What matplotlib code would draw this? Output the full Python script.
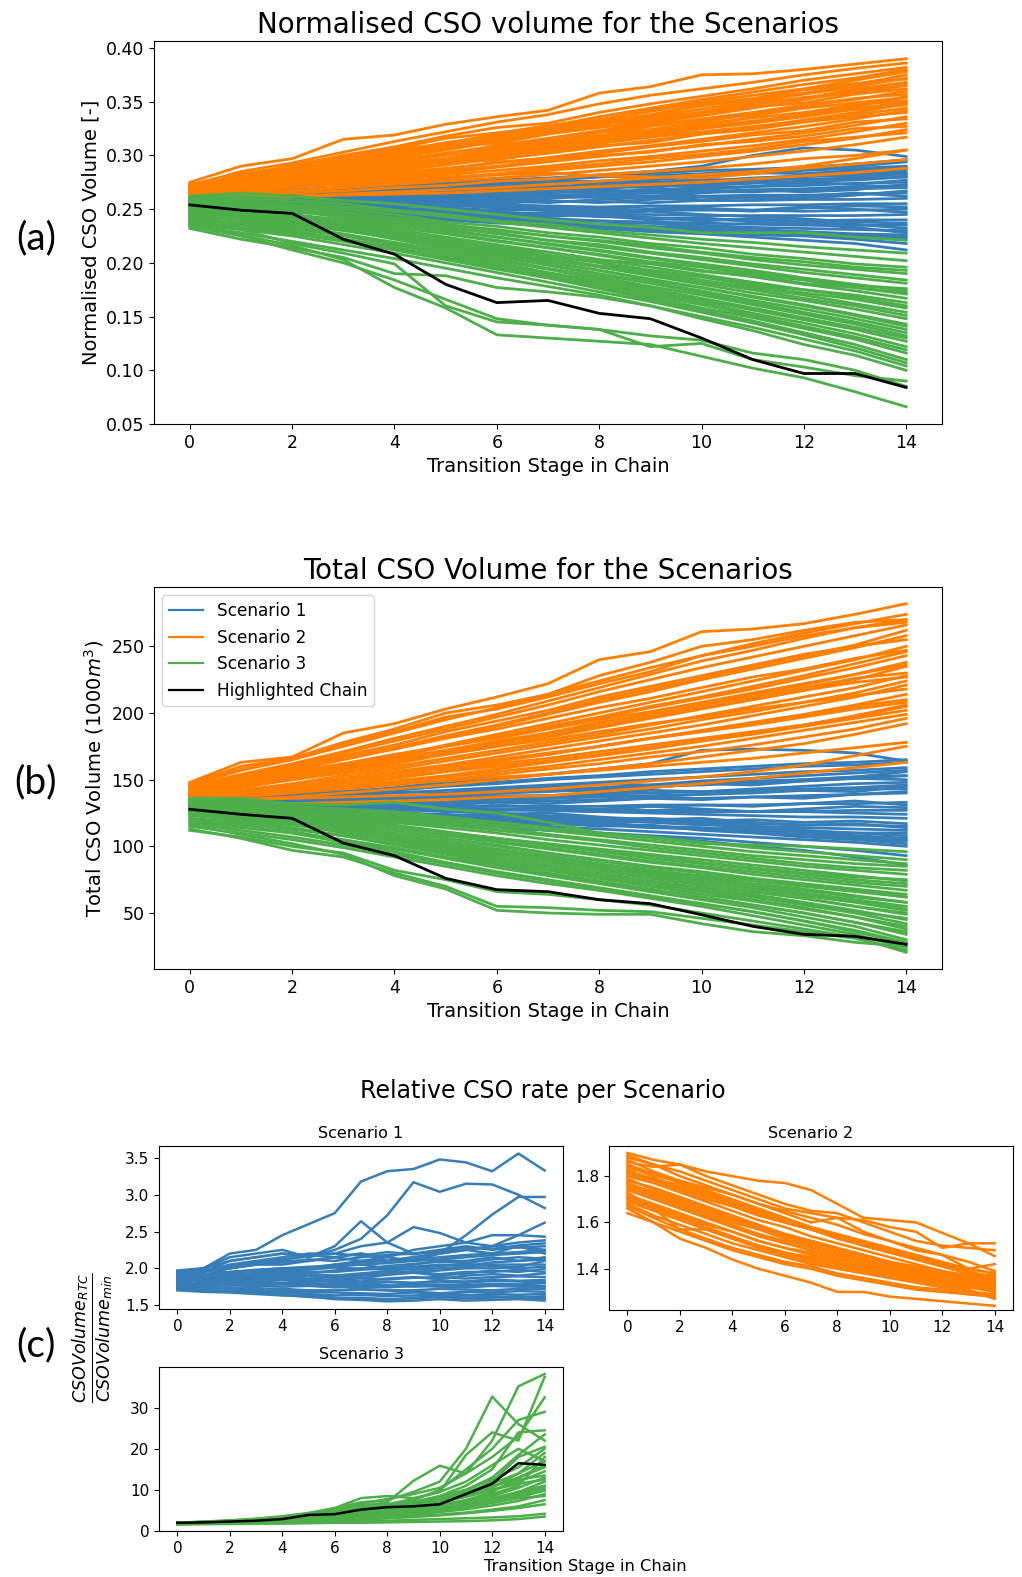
import matplotlib
matplotlib.use("Agg")
import matplotlib.pyplot as plt

stages = list(range(15))

# ---------------- (a) Normalised CSO volume ----------------
norm_s1 = [
    [0.262,0.264,0.266,0.268,0.271,0.274,0.277,0.279,0.282,0.285,0.290,0.300,0.307,0.305,0.299],
    [0.265,0.266,0.268,0.270,0.272,0.275,0.276,0.278,0.280,0.281,0.283,0.286,0.288,0.290,0.294],
    [0.260,0.262,0.264,0.266,0.268,0.270,0.273,0.276,0.276,0.279,0.282,0.284,0.283,0.286,0.289],
    [0.258,0.259,0.262,0.263,0.266,0.267,0.270,0.271,0.273,0.275,0.276,0.279,0.281,0.282,0.285],
    [0.263,0.262,0.263,0.264,0.265,0.266,0.268,0.268,0.270,0.272,0.272,0.274,0.276,0.277,0.280],
    [0.255,0.257,0.258,0.260,0.262,0.263,0.264,0.266,0.266,0.268,0.270,0.271,0.272,0.274,0.275],
    [0.261,0.260,0.260,0.261,0.261,0.262,0.263,0.263,0.264,0.265,0.266,0.266,0.268,0.269,0.270],
    [0.257,0.257,0.258,0.258,0.259,0.259,0.260,0.261,0.261,0.262,0.262,0.263,0.263,0.264,0.265],
    [0.259,0.258,0.257,0.257,0.256,0.256,0.256,0.257,0.257,0.256,0.258,0.258,0.259,0.259,0.260],
    [0.254,0.254,0.254,0.253,0.253,0.253,0.254,0.253,0.252,0.253,0.253,0.254,0.254,0.255,0.255],
    [0.262,0.260,0.258,0.256,0.255,0.253,0.252,0.251,0.250,0.249,0.249,0.249,0.248,0.249,0.250],
    [0.256,0.255,0.253,0.251,0.250,0.248,0.247,0.246,0.245,0.245,0.244,0.244,0.244,0.244,0.245],
    [0.260,0.258,0.256,0.253,0.251,0.249,0.247,0.245,0.243,0.242,0.241,0.240,0.239,0.240,0.240],
    [0.253,0.252,0.250,0.248,0.246,0.244,0.243,0.241,0.239,0.238,0.237,0.236,0.235,0.235,0.235],
    [0.258,0.256,0.253,0.250,0.248,0.246,0.244,0.241,0.239,0.237,0.235,0.233,0.232,0.231,0.230],
    [0.255,0.253,0.250,0.247,0.245,0.242,0.240,0.238,0.236,0.234,0.232,0.230,0.229,0.227,0.226],
    [0.257,0.254,0.251,0.248,0.245,0.243,0.240,0.237,0.235,0.233,0.230,0.228,0.226,0.224,0.222],
    [0.252,0.250,0.247,0.245,0.242,0.240,0.238,0.236,0.234,0.231,0.229,0.226,0.225,0.222,0.218],
    [0.256,0.253,0.249,0.246,0.243,0.240,0.237,0.235,0.232,0.229,0.227,0.224,0.221,0.218,0.212],
    [0.264,0.265,0.267,0.268,0.270,0.272,0.274,0.277,0.280,0.283,0.286,0.287,0.289,0.292,0.296],
    [0.259,0.261,0.262,0.262,0.264,0.266,0.266,0.269,0.271,0.271,0.274,0.277,0.278,0.278,0.280],
    [0.254,0.255,0.256,0.257,0.258,0.260,0.261,0.262,0.264,0.265,0.266,0.268,0.269,0.271,0.272],
    [0.266,0.264,0.262,0.262,0.265,0.268,0.266,0.270,0.268,0.273,0.271,0.276,0.274,0.279,0.283],
    [0.253,0.256,0.259,0.262,0.261,0.264,0.268,0.267,0.271,0.270,0.274,0.278,0.281,0.280,0.287],
    [0.261,0.258,0.255,0.257,0.254,0.252,0.255,0.252,0.250,0.253,0.250,0.248,0.251,0.253,0.252],
    [0.257,0.259,0.261,0.259,0.257,0.260,0.258,0.256,0.259,0.261,0.258,0.262,0.260,0.263,0.267],
    [0.263,0.261,0.259,0.256,0.258,0.255,0.251,0.249,0.246,0.248,0.245,0.243,0.241,0.238,0.237],
    [0.255,0.253,0.252,0.250,0.247,0.249,0.246,0.243,0.245,0.242,0.239,0.241,0.238,0.236,0.232],
    [0.259,0.256,0.254,0.252,0.251,0.247,0.245,0.247,0.244,0.240,0.242,0.238,0.236,0.233,0.228],
    [0.252,0.251,0.249,0.246,0.244,0.241,0.242,0.239,0.236,0.237,0.233,0.231,0.229,0.226,0.224],
    [0.264,0.262,0.263,0.265,0.263,0.266,0.270,0.272,0.270,0.274,0.278,0.276,0.280,0.284,0.282],
    [0.258,0.260,0.258,0.260,0.262,0.261,0.263,0.265,0.268,0.266,0.268,0.271,0.275,0.273,0.277],
    [0.256,0.257,0.255,0.254,0.256,0.257,0.256,0.258,0.256,0.259,0.261,0.260,0.262,0.265,0.262],
    [0.260,0.259,0.260,0.258,0.259,0.257,0.259,0.260,0.263,0.262,0.265,0.268,0.266,0.268,0.273],
    [0.254,0.252,0.251,0.252,0.250,0.251,0.249,0.250,0.248,0.250,0.251,0.249,0.252,0.250,0.247],
    [0.262,0.263,0.264,0.266,0.267,0.269,0.272,0.275,0.274,0.277,0.280,0.283,0.286,0.288,0.290],
]
norm_s2 = [
    [0.275,0.290,0.297,0.315,0.319,0.329,0.336,0.342,0.358,0.364,0.375,0.376,0.380,0.385,0.390],
    [0.272,0.285,0.293,0.303,0.313,0.322,0.331,0.338,0.348,0.356,0.362,0.368,0.375,0.381,0.386],
    [0.270,0.280,0.290,0.300,0.308,0.318,0.326,0.330,0.340,0.348,0.355,0.362,0.370,0.376,0.382],
    [0.268,0.278,0.286,0.294,0.303,0.312,0.318,0.326,0.333,0.342,0.350,0.356,0.362,0.370,0.378],
    [0.266,0.274,0.282,0.290,0.298,0.305,0.313,0.320,0.328,0.336,0.343,0.350,0.357,0.364,0.372],
    [0.270,0.276,0.283,0.289,0.296,0.302,0.309,0.316,0.323,0.330,0.337,0.344,0.352,0.360,0.366],
    [0.264,0.271,0.278,0.285,0.291,0.297,0.304,0.311,0.318,0.324,0.331,0.339,0.346,0.352,0.360],
    [0.268,0.273,0.279,0.284,0.289,0.295,0.300,0.306,0.312,0.318,0.325,0.331,0.338,0.345,0.355],
    [0.262,0.268,0.274,0.280,0.286,0.291,0.297,0.302,0.308,0.314,0.320,0.326,0.333,0.340,0.348],
    [0.266,0.270,0.275,0.279,0.284,0.288,0.293,0.298,0.304,0.309,0.315,0.321,0.327,0.334,0.342],
    [0.260,0.265,0.270,0.275,0.279,0.284,0.289,0.294,0.299,0.304,0.309,0.315,0.321,0.328,0.336],
    [0.264,0.267,0.271,0.275,0.278,0.282,0.286,0.290,0.295,0.299,0.304,0.309,0.315,0.322,0.330],
    [0.259,0.263,0.267,0.270,0.274,0.278,0.282,0.286,0.290,0.294,0.299,0.304,0.310,0.316,0.324],
    [0.262,0.264,0.267,0.270,0.273,0.276,0.279,0.282,0.286,0.290,0.294,0.299,0.304,0.310,0.317],
    [0.258,0.260,0.262,0.264,0.266,0.268,0.270,0.273,0.276,0.279,0.282,0.285,0.290,0.297,0.305],
    [0.260,0.261,0.262,0.263,0.264,0.265,0.267,0.269,0.271,0.273,0.275,0.278,0.281,0.284,0.288],
    [0.273,0.283,0.289,0.296,0.302,0.309,0.316,0.324,0.331,0.338,0.346,0.352,0.358,0.366,0.375],
    [0.267,0.277,0.284,0.292,0.300,0.306,0.314,0.323,0.330,0.335,0.340,0.347,0.354,0.358,0.365],
    [0.265,0.272,0.280,0.287,0.294,0.300,0.307,0.313,0.321,0.328,0.334,0.340,0.347,0.353,0.357],
    [0.263,0.269,0.276,0.282,0.288,0.294,0.299,0.305,0.311,0.317,0.322,0.327,0.332,0.338,0.344],
    [0.271,0.282,0.288,0.297,0.305,0.311,0.320,0.328,0.333,0.341,0.348,0.353,0.361,0.367,0.371],
    [0.269,0.279,0.285,0.293,0.299,0.308,0.314,0.321,0.329,0.333,0.340,0.349,0.353,0.362,0.368],
    [0.265,0.273,0.281,0.286,0.294,0.302,0.308,0.314,0.318,0.327,0.333,0.337,0.344,0.349,0.354],
    [0.267,0.271,0.279,0.288,0.292,0.297,0.306,0.309,0.316,0.321,0.329,0.335,0.340,0.347,0.351],
    [0.263,0.270,0.273,0.281,0.285,0.293,0.296,0.303,0.309,0.312,0.320,0.324,0.331,0.336,0.340],
    [0.261,0.266,0.272,0.276,0.283,0.287,0.294,0.297,0.302,0.308,0.313,0.319,0.323,0.331,0.334],
    [0.266,0.268,0.273,0.277,0.281,0.286,0.290,0.296,0.300,0.303,0.310,0.313,0.318,0.325,0.327],
    [0.259,0.264,0.266,0.271,0.275,0.279,0.283,0.288,0.292,0.297,0.301,0.306,0.313,0.317,0.321],
    [0.262,0.262,0.265,0.267,0.270,0.272,0.276,0.278,0.282,0.285,0.288,0.292,0.297,0.300,0.305],
    [0.270,0.278,0.287,0.291,0.301,0.309,0.311,0.320,0.326,0.331,0.338,0.345,0.349,0.357,0.362],
    [0.273,0.281,0.291,0.299,0.306,0.316,0.321,0.327,0.336,0.344,0.352,0.359,0.366,0.372,0.380],
    [0.264,0.268,0.270,0.273,0.277,0.280,0.282,0.284,0.281,0.280,0.279,0.283,0.288,0.292,0.296],
    [0.268,0.275,0.282,0.286,0.293,0.296,0.304,0.312,0.315,0.322,0.327,0.332,0.338,0.343,0.347],
    [0.265,0.270,0.276,0.283,0.288,0.296,0.302,0.308,0.314,0.320,0.325,0.330,0.336,0.343,0.350],
]
norm_s3 = [
    [0.262,0.265,0.262,0.258,0.255,0.250,0.245,0.240,0.236,0.233,0.228,0.228,0.228,0.224,0.221],
    [0.258,0.260,0.257,0.252,0.248,0.243,0.238,0.233,0.228,0.223,0.218,0.214,0.210,0.206,0.202],
    [0.255,0.256,0.252,0.247,0.242,0.236,0.230,0.225,0.220,0.214,0.209,0.203,0.198,0.194,0.190],
    [0.260,0.258,0.253,0.247,0.240,0.233,0.227,0.221,0.215,0.209,0.203,0.197,0.191,0.186,0.181],
    [0.252,0.252,0.248,0.243,0.237,0.231,0.224,0.218,0.212,0.205,0.199,0.193,0.186,0.180,0.174],
    [0.257,0.254,0.249,0.242,0.235,0.228,0.221,0.214,0.207,0.200,0.193,0.187,0.180,0.174,0.167],
    [0.249,0.248,0.244,0.238,0.231,0.224,0.217,0.210,0.203,0.196,0.189,0.182,0.175,0.168,0.160],
    [0.254,0.250,0.245,0.238,0.230,0.222,0.214,0.207,0.200,0.192,0.184,0.177,0.170,0.162,0.154],
    [0.246,0.244,0.240,0.234,0.227,0.219,0.211,0.203,0.196,0.188,0.180,0.172,0.165,0.157,0.148],
    [0.251,0.247,0.242,0.235,0.227,0.218,0.209,0.201,0.193,0.185,0.177,0.169,0.161,0.152,0.143],
    [0.243,0.241,0.236,0.230,0.223,0.215,0.206,0.198,0.190,0.182,0.174,0.165,0.157,0.148,0.138],
    [0.248,0.244,0.238,0.231,0.222,0.213,0.204,0.195,0.187,0.178,0.170,0.161,0.152,0.143,0.132],
    [0.240,0.237,0.232,0.225,0.217,0.209,0.200,0.191,0.183,0.174,0.165,0.156,0.147,0.138,0.127],
    [0.245,0.240,0.234,0.226,0.218,0.208,0.199,0.190,0.181,0.172,0.163,0.153,0.144,0.134,0.122],
    [0.237,0.233,0.227,0.220,0.212,0.203,0.194,0.186,0.177,0.168,0.158,0.149,0.139,0.129,0.116],
    [0.242,0.237,0.230,0.222,0.214,0.204,0.195,0.186,0.176,0.166,0.156,0.146,0.135,0.124,0.110],
    [0.235,0.228,0.220,0.212,0.204,0.195,0.186,0.178,0.170,0.160,0.150,0.140,0.129,0.118,0.104],
    [0.232,0.222,0.214,0.205,0.190,0.188,0.177,0.173,0.168,0.160,0.148,0.137,0.124,0.114,0.100],
    [0.234,0.225,0.212,0.200,0.184,0.166,0.148,0.142,0.138,0.122,0.125,0.110,0.103,0.095,0.090],
    [0.236,0.226,0.216,0.203,0.177,0.158,0.133,0.130,0.127,0.124,0.113,0.102,0.093,0.080,0.066],
    [0.238,0.231,0.218,0.209,0.199,0.160,0.145,0.142,0.138,0.132,0.128,0.116,0.110,0.100,0.085],
    [0.250,0.246,0.240,0.231,0.225,0.215,0.210,0.204,0.197,0.193,0.187,0.180,0.175,0.170,0.163],
    [0.261,0.262,0.259,0.255,0.249,0.245,0.239,0.236,0.230,0.226,0.222,0.219,0.215,0.212,0.209],
    [0.256,0.258,0.254,0.250,0.245,0.238,0.234,0.228,0.224,0.218,0.214,0.208,0.204,0.199,0.196],
    [0.253,0.254,0.250,0.244,0.239,0.233,0.228,0.221,0.217,0.210,0.205,0.199,0.194,0.189,0.184],
    [0.259,0.256,0.250,0.244,0.238,0.230,0.224,0.217,0.211,0.204,0.198,0.191,0.185,0.179,0.176],
    [0.250,0.249,0.245,0.240,0.233,0.227,0.220,0.214,0.208,0.201,0.196,0.189,0.184,0.177,0.171],
    [0.247,0.245,0.241,0.236,0.229,0.221,0.215,0.207,0.201,0.193,0.187,0.179,0.172,0.166,0.158],
    [0.252,0.249,0.243,0.236,0.229,0.220,0.212,0.205,0.197,0.190,0.182,0.175,0.167,0.160,0.151],
    [0.244,0.242,0.237,0.232,0.225,0.216,0.208,0.200,0.193,0.184,0.177,0.168,0.160,0.151,0.141],
    [0.249,0.245,0.239,0.233,0.224,0.216,0.207,0.198,0.189,0.181,0.172,0.163,0.154,0.145,0.135],
    [0.241,0.238,0.234,0.227,0.219,0.211,0.202,0.194,0.185,0.176,0.167,0.158,0.149,0.140,0.130],
    [0.239,0.235,0.229,0.222,0.215,0.206,0.197,0.188,0.179,0.170,0.161,0.151,0.141,0.131,0.119],
    [0.236,0.231,0.225,0.217,0.209,0.200,0.191,0.182,0.173,0.164,0.154,0.144,0.133,0.121,0.107],
    [0.245,0.243,0.238,0.233,0.227,0.222,0.214,0.210,0.203,0.199,0.192,0.188,0.181,0.177,0.172],
    [0.258,0.255,0.251,0.245,0.241,0.235,0.231,0.225,0.221,0.216,0.210,0.205,0.201,0.196,0.193],
]
norm_highlight = [0.254,0.249,0.246,0.222,0.208,0.180,0.163,0.165,0.153,0.148,0.130,0.110,0.097,0.097,0.084]

# ---------------- (b) Total CSO volume (1000 m3) ----------------
total_s1 = [
    [134,136,138,141,144,148,151,154,158,162,172,173,172,170,164],
    [136,137,139,141,143,146,148,151,153,156,158,160,162,163,165],
    [133,135,137,138,140,142,144,146,148,150,152,154,156,157,159],
    [131,132,134,135,137,138,140,141,143,145,146,148,149,151,153],
    [135,135,135,136,136,137,138,138,139,140,141,142,143,144,146],
    [129,130,131,131,132,133,134,134,135,136,136,137,138,139,140],
    [132,132,131,131,131,130,130,130,130,131,131,131,132,132,133],
    [128,128,128,127,127,127,127,127,126,126,126,126,126,127,127],
    [134,133,132,131,130,129,128,127,126,125,124,123,122,122,121],
    [130,129,127,126,125,124,122,121,120,119,118,117,116,116,115],
    [127,126,124,123,121,120,118,117,116,114,113,112,111,110,110],
    [133,131,129,127,125,123,121,119,117,115,113,111,109,107,105],
    [129,127,125,123,121,119,117,115,113,111,109,107,105,103,100],
    [126,124,122,120,118,116,114,112,110,108,106,103,100,97,93],
    [131,129,126,123,120,118,115,112,110,107,104,100,97,92,86],
    [135,136,138,140,142,145,147,150,152,154,156,158,160,161,163],
    [132,133,134,136,137,139,141,143,144,146,148,149,150,152,156],
    [128,129,130,131,132,133,134,136,137,138,139,141,142,143,143],
    [130,130,130,129,129,128,128,128,127,127,127,126,126,125,124],
    [127,126,125,124,123,122,121,120,119,118,116,115,114,113,112],
    [136,135,137,139,141,140,143,145,147,146,149,151,153,155,157],
    [130,132,134,136,135,138,140,142,141,144,147,146,149,151,150],
    [133,131,130,132,130,128,131,129,127,130,128,126,128,130,129],
    [128,130,131,130,132,131,133,132,134,136,135,137,136,139,141],
    [135,133,131,129,130,127,124,125,122,120,121,118,116,117,114],
    [127,125,124,123,121,122,119,117,118,115,113,114,111,108,106],
    [131,128,126,125,123,120,121,118,115,116,112,110,107,105,102],
    [129,128,127,125,124,122,120,119,117,115,114,111,108,106,104],
    [134,134,135,137,136,139,141,143,142,145,148,147,150,152,153],
    [132,131,132,133,133,134,135,136,138,137,139,140,142,141,145],
    [126,127,127,126,127,128,127,129,128,130,131,130,132,134,131],
    [130,131,133,134,135,137,136,138,140,142,141,143,145,147,148],
    [128,127,125,126,124,123,124,122,120,121,119,120,118,119,117],
    [134,132,131,129,128,126,125,123,121,119,117,115,112,110,108],
]
total_s2 = [
    [148,163,167,185,192,203,212,222,240,246,261,263,267,274,282],
    [146,157,165,175,185,195,204,214,224,234,243,252,260,267,274],
    [144,153,161,170,179,188,197,206,216,225,234,242,250,258,266],
    [142,150,157,165,173,182,190,199,208,216,225,233,241,249,258],
    [140,147,153,161,168,176,184,192,200,208,216,224,232,240,250],
    [145,150,156,162,169,175,182,189,196,204,211,218,226,234,243],
    [138,144,150,156,162,169,175,182,189,196,203,210,217,225,235],
    [141,145,150,155,160,166,172,178,184,191,198,205,212,219,228],
    [136,141,146,151,156,161,167,173,179,185,191,198,205,212,221],
    [139,142,146,150,155,159,164,169,175,181,187,193,199,206,214],
    [135,138,141,145,149,153,158,163,168,173,179,185,191,198,206],
    [137,139,142,145,148,152,156,160,165,170,175,181,187,193,199],
    [133,135,137,140,143,146,150,154,158,162,167,172,177,184,192],
    [134,135,136,137,138,139,141,143,146,149,152,156,161,168,175],
    [135,133,132,133,134,135,137,138,141,144,147,151,155,159,163],
    [147,160,166,178,188,200,206,214,228,238,250,255,262,268,270],
    [143,152,160,168,176,186,194,202,212,220,228,236,244,250,255],
    [139,146,153,159,166,172,179,185,193,199,206,212,219,226,230],
    [142,148,153,158,164,169,175,180,186,192,197,203,208,213,218],
    [136,140,144,148,152,157,162,166,171,176,181,186,191,197,205],
    [145,154,162,171,181,190,199,209,219,229,239,247,256,264,270],
    [143,151,158,166,174,183,191,200,210,218,226,235,243,251,262],
    [140,146,153,160,167,175,182,190,197,205,212,220,228,237,246],
    [141,146,152,159,165,172,178,185,192,199,206,214,221,229,238],
    [138,142,147,153,158,164,170,176,182,188,195,201,208,215,224],
    [136,140,144,149,154,159,164,169,175,181,186,192,198,205,210],
    [137,140,143,147,151,156,160,164,169,174,179,184,190,196,202],
    [134,137,140,143,146,150,154,158,162,167,171,176,182,188,196],
    [139,141,143,145,147,149,152,154,157,160,163,166,170,174,178],
    [147,158,165,177,186,197,203,212,222,231,243,250,258,264,268],
    [144,153,159,167,173,181,188,196,204,211,219,227,233,241,247],
    [140,145,151,157,163,170,177,184,190,197,204,210,217,223,227],
    [137,141,146,150,155,160,165,170,175,181,186,191,197,203,208],
    [142,149,155,161,168,175,181,188,195,201,208,215,222,229,236],
]
total_s3 = [
    [136,136,132,131,133,128,125,118,110,106,102,101,100,98,96],
    [134,133,130,127,124,120,116,112,108,104,100,96,93,90,87],
    [132,130,126,122,118,114,110,105,101,97,93,89,85,82,79],
    [135,131,127,122,116,111,106,101,96,91,87,83,79,75,72],
    [130,128,124,119,114,108,103,98,93,88,84,79,75,71,67],
    [133,129,124,118,112,106,100,95,89,84,80,75,71,67,62],
    [128,125,121,116,110,104,98,93,87,82,77,72,68,63,58],
    [131,127,122,116,109,103,97,91,85,80,75,70,65,60,55],
    [125,123,119,114,108,102,96,90,84,79,73,68,63,58,52],
    [129,125,120,113,107,100,94,88,82,76,71,66,61,55,49],
    [123,120,116,111,105,99,92,86,80,74,69,64,58,52,45],
    [127,122,117,111,104,97,90,84,78,72,67,62,56,50,42],
    [120,117,113,108,102,96,89,83,77,71,66,60,54,47,38],
    [124,119,114,108,101,94,87,80,74,68,62,56,50,43,34],
    [118,114,110,104,98,91,84,78,72,66,60,54,47,40,30],
    [121,116,110,103,96,88,81,75,69,63,57,51,44,36,27],
    [115,110,105,99,92,85,78,72,67,61,55,48,41,34,24],
    [112,107,100,95,82,75,66,64,60,56,50,44,38,32,20.5],
    [113,106,97,92,80,70,55,54,52,51,46,41,36,31,22],
    [116,109,102,94,78,68,52,50,49,49,42,36,33,28,25],
    [126,121,117,110,104,100,94,90,86,82,78,74,70,66,62],
    [135,134,130,128,126,122,118,114,110,107,103,99,96,93,90],
    [133,131,127,124,120,116,112,108,104,99,95,91,87,84,82],
    [131,128,125,120,115,110,106,101,97,93,88,84,80,77,75],
    [134,130,126,120,115,109,104,99,94,89,85,81,77,73,70],
    [129,126,122,117,112,106,101,95,90,85,81,76,72,68,64],
    [127,124,120,114,109,103,97,92,86,81,76,71,67,62,58],
    [130,126,121,115,108,102,95,89,84,78,73,69,64,59,53],
    [124,121,117,112,106,100,94,88,82,77,71,66,61,55,50],
    [126,122,117,111,105,98,91,85,79,74,68,63,57,51,46],
    [121,118,113,108,102,95,88,82,76,70,64,59,53,47,40],
    [119,115,111,105,99,92,86,79,73,67,62,56,50,43,36],
    [117,112,107,101,94,87,80,74,68,62,57,51,44,37,28],
    [128,125,122,118,115,110,106,102,98,94,90,86,82,78,74],
    [132,130,128,125,122,118,114,109,105,101,97,93,90,87,85],
]
total_highlight = [127.8,124,121,102.5,93,76,67.5,66,60,57,48.7,40,34,32.5,26.5]

# ---------------- (c) Relative CSO rate ----------------
rel_s1 = [
    [1.90,2.00,2.20,2.25,2.45,2.60,2.75,3.18,3.32,3.35,3.48,3.44,3.32,3.56,3.33],
    [1.85,1.95,2.10,2.15,2.20,2.15,2.25,2.40,2.72,3.17,3.04,3.15,3.14,3.00,2.82],
    [1.80,1.90,2.00,2.05,2.10,2.10,2.15,2.20,2.10,2.15,2.20,2.45,2.73,2.97,2.97],
    [1.95,2.00,2.15,2.20,2.25,2.15,2.30,2.64,2.35,2.20,2.25,2.30,2.25,2.30,2.20],
    [1.88,1.95,2.05,2.10,2.15,2.20,2.20,2.30,2.35,2.56,2.48,2.35,2.30,2.28,2.30],
    [1.75,1.80,1.85,1.90,1.95,2.00,2.05,2.10,2.15,2.10,2.20,2.25,2.30,2.45,2.62],
    [1.97,2.00,2.10,2.15,2.20,2.18,2.15,2.20,2.15,2.25,2.30,2.35,2.45,2.45,2.43],
    [1.90,1.95,2.00,2.05,2.05,2.10,2.15,2.10,2.10,2.15,2.20,2.25,2.20,2.30,2.25],
    [1.85,1.90,1.95,1.98,2.00,2.00,2.05,2.05,2.00,2.05,2.10,2.10,2.15,2.10,2.15],
    [1.80,1.85,1.88,1.90,1.92,1.95,1.95,1.98,2.00,1.98,2.00,2.02,2.05,2.05,2.05],
    [1.90,1.88,1.90,1.88,1.90,1.92,1.90,1.90,1.92,1.95,1.92,1.95,1.95,1.98,1.95],
    [1.78,1.80,1.82,1.83,1.85,1.84,1.85,1.86,1.85,1.87,1.88,1.86,1.88,1.89,1.88],
    [1.85,1.82,1.80,1.80,1.78,1.78,1.77,1.78,1.76,1.78,1.78,1.77,1.79,1.78,1.80],
    [1.75,1.74,1.73,1.72,1.72,1.70,1.70,1.71,1.70,1.70,1.72,1.71,1.70,1.72,1.72],
    [1.72,1.70,1.70,1.68,1.66,1.65,1.63,1.64,1.62,1.63,1.64,1.63,1.65,1.64,1.65],
    [1.70,1.68,1.67,1.65,1.63,1.62,1.58,1.57,1.55,1.56,1.58,1.56,1.57,1.58,1.56],
    [1.93,1.92,1.95,1.97,2.00,2.02,2.04,2.08,2.10,2.12,2.15,2.18,2.20,2.22,2.25],
    [1.82,1.84,1.86,1.85,1.88,1.90,1.88,1.92,1.95,1.95,1.97,2.00,2.00,2.02,2.10],
    [1.76,1.78,1.77,1.76,1.75,1.76,1.74,1.75,1.74,1.76,1.75,1.74,1.76,1.75,1.74],
    [1.88,1.86,1.84,1.82,1.80,1.78,1.76,1.72,1.70,1.68,1.66,1.64,1.62,1.60,1.59],
    [1.84,1.86,1.90,1.92,1.95,1.93,1.97,2.00,1.98,2.02,2.05,2.03,2.08,2.10,2.12],
    [1.79,1.77,1.80,1.82,1.80,1.83,1.85,1.82,1.86,1.88,1.85,1.90,1.92,1.90,1.93],
    [1.92,1.90,1.93,1.95,1.98,2.00,2.02,2.05,2.07,2.10,2.12,2.15,2.18,2.20,2.22],
    [1.73,1.72,1.74,1.73,1.70,1.68,1.67,1.66,1.65,1.67,1.66,1.68,1.67,1.69,1.68],
    [1.87,1.88,1.85,1.86,1.84,1.82,1.83,1.80,1.82,1.80,1.83,1.82,1.85,1.83,1.84],
    [1.95,1.98,2.00,2.05,2.08,2.12,2.10,2.15,2.18,2.20,2.22,2.25,2.30,2.35,2.38],
    [1.77,1.75,1.73,1.70,1.68,1.65,1.60,1.58,1.57,1.60,1.62,1.60,1.61,1.60,1.62],
    [1.83,1.85,1.87,1.90,1.88,1.86,1.90,1.93,1.96,2.00,2.03,2.06,2.03,2.00,2.02],
    [1.81,1.83,1.80,1.84,1.87,1.85,1.89,1.87,1.91,1.94,1.90,1.93,1.97,1.95,1.99],
    [1.74,1.76,1.78,1.77,1.79,1.78,1.80,1.79,1.81,1.80,1.82,1.80,1.83,1.82,1.81],
    [1.89,1.91,1.94,1.96,1.94,1.98,2.01,1.99,2.03,2.06,2.09,2.07,2.12,2.15,2.13],
    [1.71,1.69,1.68,1.66,1.64,1.61,1.59,1.60,1.58,1.59,1.61,1.59,1.60,1.62,1.59],
    [1.86,1.84,1.83,1.81,1.79,1.80,1.78,1.76,1.77,1.75,1.77,1.76,1.78,1.77,1.76],
    [1.96,1.97,2.03,2.08,2.12,2.16,2.20,2.17,2.22,2.19,2.24,2.28,2.26,2.31,2.34],
]
rel_s2 = [
    [1.90,1.87,1.85,1.82,1.80,1.78,1.77,1.74,1.68,1.62,1.61,1.60,1.555,1.51,1.455],
    [1.88,1.85,1.82,1.78,1.74,1.70,1.66,1.64,1.62,1.61,1.58,1.56,1.49,1.51,1.51],
    [1.86,1.84,1.85,1.80,1.76,1.72,1.68,1.65,1.64,1.60,1.56,1.52,1.50,1.49,1.48],
    [1.84,1.80,1.78,1.75,1.72,1.68,1.64,1.60,1.62,1.56,1.52,1.48,1.46,1.40,1.42],
    [1.82,1.79,1.76,1.72,1.68,1.64,1.60,1.57,1.54,1.50,1.47,1.44,1.41,1.38,1.37],
    [1.80,1.77,1.73,1.69,1.65,1.61,1.58,1.54,1.51,1.48,1.45,1.42,1.39,1.37,1.35],
    [1.78,1.75,1.71,1.67,1.63,1.59,1.55,1.52,1.49,1.46,1.43,1.40,1.38,1.36,1.34],
    [1.76,1.72,1.68,1.64,1.60,1.57,1.53,1.50,1.47,1.44,1.41,1.39,1.37,1.35,1.33],
    [1.74,1.70,1.66,1.62,1.58,1.54,1.51,1.48,1.45,1.42,1.40,1.38,1.36,1.34,1.32],
    [1.72,1.68,1.64,1.60,1.56,1.52,1.49,1.46,1.43,1.41,1.39,1.37,1.35,1.33,1.31],
    [1.70,1.66,1.62,1.58,1.54,1.50,1.47,1.44,1.42,1.40,1.38,1.36,1.34,1.32,1.30],
    [1.68,1.63,1.59,1.55,1.51,1.48,1.45,1.42,1.40,1.38,1.36,1.34,1.32,1.30,1.29],
    [1.66,1.60,1.56,1.52,1.48,1.45,1.42,1.40,1.37,1.35,1.33,1.31,1.30,1.29,1.28],
    [1.64,1.60,1.53,1.49,1.44,1.40,1.37,1.34,1.30,1.30,1.28,1.27,1.26,1.25,1.24],
    [1.87,1.82,1.78,1.74,1.70,1.66,1.62,1.58,1.55,1.52,1.49,1.46,1.43,1.40,1.38],
    [1.79,1.74,1.70,1.66,1.62,1.58,1.55,1.52,1.49,1.46,1.43,1.41,1.39,1.37,1.36],
    [1.73,1.66,1.57,1.57,1.53,1.50,1.47,1.45,1.43,1.40,1.38,1.36,1.34,1.32,1.31],
    [1.69,1.65,1.61,1.57,1.53,1.49,1.46,1.43,1.41,1.39,1.37,1.35,1.33,1.31,1.27],
    [1.83,1.78,1.74,1.70,1.67,1.63,1.60,1.57,1.54,1.51,1.48,1.45,1.42,1.39,1.36],
    [1.77,1.73,1.69,1.65,1.61,1.58,1.54,1.51,1.48,1.45,1.42,1.40,1.38,1.36,1.34],
    [1.85,1.81,1.77,1.73,1.69,1.65,1.61,1.57,1.53,1.50,1.47,1.44,1.41,1.38,1.35],
    [1.75,1.71,1.67,1.63,1.59,1.55,1.52,1.49,1.46,1.43,1.41,1.39,1.37,1.35,1.33],
    [1.71,1.67,1.63,1.59,1.56,1.52,1.49,1.47,1.44,1.42,1.39,1.37,1.35,1.33,1.32],
    [1.67,1.62,1.57,1.53,1.49,1.46,1.43,1.41,1.38,1.36,1.34,1.32,1.31,1.29,1.28],
    [1.81,1.78,1.75,1.71,1.67,1.63,1.60,1.57,1.54,1.50,1.47,1.45,1.42,1.40,1.38],
    [1.89,1.85,1.80,1.76,1.72,1.68,1.65,1.62,1.59,1.55,1.52,1.49,1.46,1.43,1.39],
]
rel_s3 = [
    [2.0,2.2,2.5,2.9,3.4,4.2,5.5,7.0,7.5,9.5,12.0,20.0,32.7,26.0,22.0],
    [2.0,2.2,2.4,2.8,3.3,4.0,5.0,6.5,7.8,9.0,10.5,14.0,22.0,35.2,38.2],
    [1.9,2.1,2.4,2.7,3.2,3.9,4.8,6.0,7.0,12.2,15.9,14.0,18.0,23.0,32.5],
    [2.0,2.3,2.6,3.0,3.6,4.4,5.6,8.0,8.5,8.0,9.5,18.5,24.0,22.0,37.5],
    [1.9,2.1,2.3,2.6,3.0,3.6,4.3,5.2,6.3,7.5,10.0,15.0,20.0,27.0,29.0],
    [1.8,2.0,2.2,2.5,2.9,3.4,4.0,4.8,5.8,7.0,8.5,11.0,15.0,24.0,24.5],
    [1.9,2.0,2.2,2.4,2.7,3.1,3.6,4.3,5.1,6.0,7.2,9.0,12.0,18.0,20.5],
    [1.8,1.9,2.1,2.3,2.6,2.9,3.3,3.8,4.4,5.2,6.2,7.5,9.5,13.0,15.5],
    [1.8,1.9,2.0,2.2,2.4,2.7,3.0,3.4,3.9,4.5,5.2,6.2,7.5,9.5,12.0],
    [1.7,1.8,1.9,2.1,2.3,2.5,2.8,3.1,3.5,4.0,4.6,5.3,6.2,7.3,9.0],
    [1.7,1.8,1.9,2.0,2.1,2.3,2.5,2.8,3.1,3.4,3.8,4.3,4.9,5.6,6.5],
    [1.7,1.7,1.8,1.9,2.0,2.1,2.2,2.4,2.5,2.7,2.9,3.1,3.3,3.6,4.2],
    [1.6,1.7,1.7,1.8,1.8,1.9,2.0,2.0,2.1,2.2,2.3,2.4,2.6,2.9,3.5],
    [2.0,2.2,2.5,2.8,3.3,3.9,4.6,5.5,6.5,7.8,9.5,12.0,16.0,20.0,17.0],
    [1.9,2.1,2.3,2.6,3.0,3.5,4.2,5.0,6.0,7.0,8.2,10.0,13.0,18.5,23.5],
    [1.8,2.0,2.1,2.4,2.7,3.1,3.7,4.4,5.2,6.1,7.2,8.5,10.5,14.0,19.0],
    [1.9,2.0,2.2,2.5,2.8,3.2,3.8,4.5,5.4,6.3,7.5,9.0,11.0,12.5,13.5],
    [1.8,1.9,2.1,2.3,2.5,2.8,3.2,3.7,4.3,5.0,5.8,6.8,8.0,9.5,11.0],
    [1.9,2.0,2.2,2.4,2.6,2.9,3.3,3.7,4.2,4.8,5.5,6.5,7.0,8.0,8.5],
    [1.8,2.0,2.2,2.4,2.8,3.3,3.9,4.6,5.5,6.5,7.5,8.5,10.0,11.5,12.5],
    [1.9,2.1,2.3,2.6,2.9,3.3,3.9,4.5,5.2,6.0,7.0,8.3,10.0,12.0,14.5],
    [1.7,1.8,2.0,2.2,2.4,2.7,3.0,3.4,3.8,4.4,5.0,5.8,6.8,8.0,10.0],
    [2.0,2.1,2.3,2.6,3.0,3.5,4.1,4.8,5.6,6.5,7.6,9.0,10.8,13.0,16.0],
    [1.8,1.9,2.1,2.3,2.6,3.0,3.4,3.9,4.5,5.2,6.0,7.0,8.5,10.5,13.0],
    [1.9,2.0,2.2,2.4,2.7,3.1,3.5,4.0,4.7,5.5,6.4,7.5,9.0,11.0,18.0],
    [1.9,2.0,2.2,2.5,2.9,3.4,4.0,4.8,5.7,6.8,8.0,9.5,11.5,14.0,17.0],
    [1.8,1.9,2.0,2.2,2.5,2.8,3.2,3.6,4.1,4.7,5.4,6.3,7.4,8.8,10.5],
    [1.7,1.8,1.9,2.1,2.2,2.4,2.6,2.9,3.2,3.6,4.0,4.5,5.2,6.0,7.5],
    [2.0,2.2,2.4,2.7,3.1,3.6,4.3,5.1,6.0,7.1,8.4,10.0,12.5,15.5,20.0],
    [1.8,1.9,2.1,2.3,2.5,2.8,3.1,3.5,4.0,4.6,5.3,6.1,7.1,8.4,9.8],
    [1.9,2.0,2.1,2.3,2.6,2.9,3.3,3.8,4.3,5.0,5.8,6.7,7.8,9.2,11.0],
]
rel_highlight = [2.0,2.1,2.3,2.5,2.9,3.9,4.1,5.2,5.8,6.0,6.5,9.0,11.5,16.5,16.1]

scenario_labels = ["Scenario 1", "Scenario 2", "Scenario 3", "Highlighted Chain"]
colors = ["#377eb8", "#ff7f00", "#4daf4a", "black"]

# ---------------- figure ----------------
W, H = 1022, 1577
fig = plt.figure(figsize=(W / 100, H / 100), dpi=100)

def box(l, t, r, b):
    return [l / W, 1 - b / H, (r - l) / W, (b - t) / H]

LW = 2.0
LWC = 1.8

# (a)
axa = fig.add_axes(box(154, 41, 942, 424))
for grp, c in zip([norm_s1, norm_s2, norm_s3], colors[:3]):
    for line in grp:
        axa.plot(stages, line, color=c, lw=LW)
axa.plot(stages, norm_highlight, color="black", lw=LW)
axa.set_ylim(0.05, 0.4065)
axa.set_xlim(-0.7, 14.7)
axa.set_xticks(range(0, 15, 2))
axa.set_title("Normalised CSO volume for the Scenarios", fontsize=20)
axa.set_xlabel("Transition Stage in Chain", fontsize=14)
axa.set_ylabel("Normalised CSO Volume [-]", fontsize=14)
axa.tick_params(labelsize=12.5)

# (b)
axb = fig.add_axes(box(154, 587, 942, 969))
for grp, c, lab in zip([total_s1, total_s2, total_s3], colors[:3], scenario_labels[:3]):
    for i, line in enumerate(grp):
        axb.plot(stages, line, color=c, lw=LW, label=lab if i == 0 else None)
axb.plot(stages, total_highlight, color="black", lw=LW, label=scenario_labels[3])
axb.set_ylim(8, 294.5)
axb.set_xlim(-0.7, 14.7)
axb.set_xticks(range(0, 15, 2))
axb.set_title("Total CSO Volume for the Scenarios", fontsize=20)
axb.set_xlabel("Transition Stage in Chain", fontsize=14)
axb.set_ylabel("Total CSO Volume (1000$m^3$)", fontsize=14)
axb.tick_params(labelsize=12.5)
leg = axb.legend(loc="upper left", fontsize=12.2)
for h in leg.get_lines():
    h.set_linewidth(1.6)

# (c)
ax1 = fig.add_axes(box(159, 1146, 563, 1309))
for line in rel_s1:
    ax1.plot(stages, line, color=colors[0], lw=LWC)
ax1.set_ylim(1.446, 3.663)
ax1.set_title("Scenario 1", fontsize=11.5)

ax2 = fig.add_axes(box(609, 1146, 1013, 1310))
for line in rel_s2:
    ax2.plot(stages, line, color=colors[1], lw=LWC)
ax2.set_ylim(1.222, 1.93)
ax2.set_yticks([1.4, 1.6, 1.8])
ax2.set_title("Scenario 2", fontsize=11.5)

ax3 = fig.add_axes(box(159, 1367, 563, 1531))
for line in rel_s3:
    ax3.plot(stages, line, color=colors[2], lw=LWC)
ax3.plot(stages, rel_highlight, color="black", lw=LWC)
ax3.set_ylim(0, 39.9)
ax3.set_title("Scenario 3", fontsize=11.5)

for ax in (ax1, ax2, ax3):
    ax.set_xlim(-0.7, 14.7)
    ax.set_xticks(range(0, 15, 2))
    ax.tick_params(labelsize=11)

fig.text(543 / W, 1 - 1091 / H, "Relative CSO rate per Scenario", fontsize=17,
         ha="center", va="center")
fig.text(585 / W, 1 - 1566 / H, "Transition Stage in Chain", fontsize=11.7,
         ha="center", va="center")
fig.text(93 / W, 1 - 1338 / H, r"$\frac{CSOVolume_{RTC}}{CSOVolume_{min}}$",
         fontsize=18, rotation=90, ha="center", va="center")

for lab, y in (("(a)", 238), ("(b)", 782), ("(c)", 1345)):
    fig.text(36 / W, 1 - y / H, lab, fontsize=28, family=["Lato", "DejaVu Sans"],
             ha="center", va="center")

fig.savefig("out.png", dpi=100)
